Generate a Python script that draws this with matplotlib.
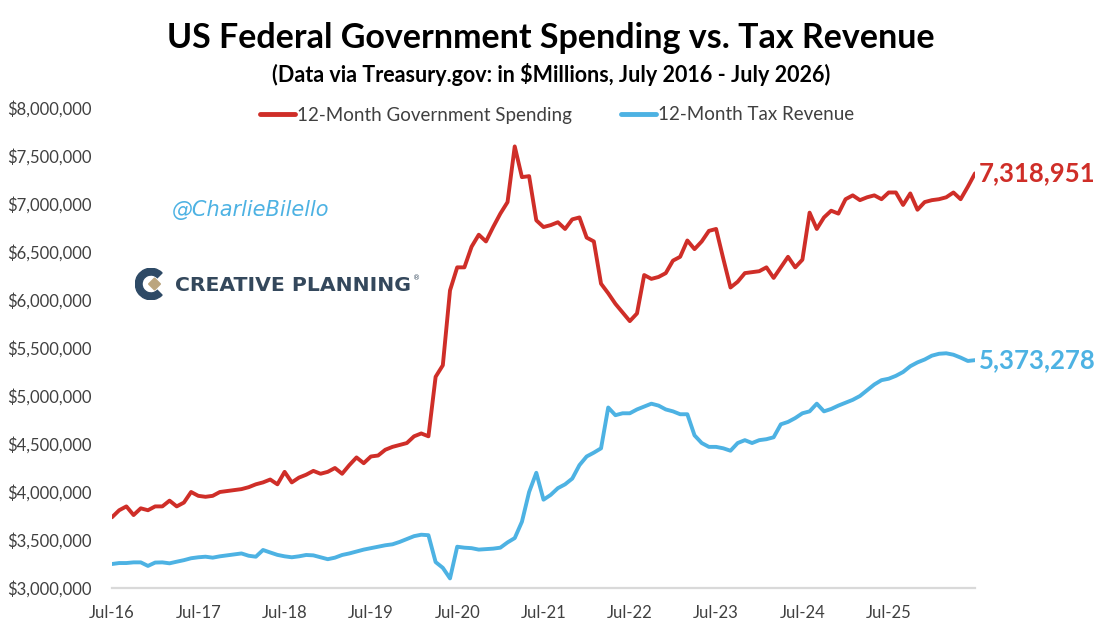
import matplotlib
matplotlib.use("Agg")
import matplotlib.pyplot as plt
from matplotlib.patches import Wedge, Polygon
import numpy as np

# ---- data (12-month rolling totals, in $ trillions -> converted to $ millions) ----
spending_tn = [3.737, 3.81, 3.85, 3.76, 3.83, 3.81, 3.85, 3.85, 3.91, 3.85,
               3.89, 4.00, 3.96, 3.95, 3.96, 4.00, 4.01, 4.02, 4.03, 4.05,
               4.08, 4.10, 4.13, 4.08, 4.21, 4.10, 4.15, 4.18, 4.22, 4.19,
               4.21, 4.25, 4.19, 4.28, 4.36, 4.30, 4.37, 4.38, 4.44, 4.47,
               4.49, 4.51, 4.58, 4.61, 4.58, 5.20, 5.32, 6.10, 6.34, 6.34,
               6.555, 6.68, 6.61, 6.76, 6.90, 7.02, 7.60, 7.28, 7.29, 6.83,
               6.76, 6.78, 6.81, 6.74, 6.84, 6.86, 6.65, 6.61, 6.17, 6.07,
               5.96, 5.87, 5.78, 5.86, 6.26, 6.22, 6.24, 6.28, 6.41, 6.45,
               6.62, 6.53, 6.61, 6.72, 6.74, 6.43, 6.13, 6.19, 6.28, 6.29,
               6.30, 6.34, 6.23, 6.34, 6.45, 6.34, 6.42, 6.91, 6.74, 6.86,
               6.93, 6.90, 7.05, 7.09, 7.04, 7.07, 7.09, 7.05, 7.12, 7.12,
               6.99, 7.11, 6.94, 7.02, 7.04, 7.05, 7.07, 7.12, 7.05, 7.18,
               7.318951]

revenue_tn = [3.25, 3.26, 3.26, 3.267, 3.267, 3.23, 3.265, 3.267, 3.257, 3.274,
              3.29, 3.31, 3.32, 3.326, 3.316, 3.33, 3.34, 3.35, 3.36, 3.336,
              3.326, 3.396, 3.37, 3.345, 3.33, 3.32, 3.33, 3.344, 3.34, 3.32,
              3.30, 3.316, 3.344, 3.36, 3.38, 3.40, 3.415, 3.43, 3.445, 3.455,
              3.48, 3.51, 3.54, 3.555, 3.55, 3.27, 3.21, 3.10, 3.43, 3.42,
              3.415, 3.40, 3.405, 3.41, 3.42, 3.475, 3.52, 3.69, 4.00, 4.20,
              3.92, 3.97, 4.04, 4.08, 4.14, 4.28, 4.37, 4.41, 4.455, 4.88,
              4.80, 4.82, 4.82, 4.86, 4.89, 4.92, 4.90, 4.86, 4.84, 4.81,
              4.81, 4.59, 4.51, 4.47, 4.47, 4.455, 4.43, 4.51, 4.54, 4.51,
              4.54, 4.55, 4.57, 4.705, 4.73, 4.77, 4.82, 4.84, 4.92, 4.84,
              4.865, 4.90, 4.93, 4.96, 5.00, 5.06, 5.12, 5.165, 5.18, 5.21,
              5.25, 5.31, 5.35, 5.38, 5.42, 5.44, 5.445, 5.43, 5.40, 5.365,
              5.373278]

x_tick_labels = ["Jul-16", "Jul-17", "Jul-18", "Jul-19", "Jul-20",
                 "Jul-21", "Jul-22", "Jul-23", "Jul-24", "Jul-25"]
y_ticks = [3000000, 3500000, 4000000, 4500000, 5000000, 5500000,
           6000000, 6500000, 7000000, 7500000, 8000000]
series_names = ["12-Month Government Spending", "12-Month Tax Revenue"]
last_labels = ["7,318,951", "5,373,278"]

spending = np.array(spending_tn) * 1e6
revenue = np.array(revenue_tn) * 1e6
months = np.arange(len(spending))

RED = "#CF2E28"
BLUE = "#4DB2E3"
FONT = "Lato"

W, H = 1102, 638
fig = plt.figure(figsize=(W / 100, H / 100), dpi=100)
fig.patch.set_facecolor("white")

ax = fig.add_axes([112 / W, 1 - 588 / H, (975 - 112) / W, (588 - 108) / H])
ax.plot(months, spending, color=RED, lw=2.8, solid_joinstyle="round",
        solid_capstyle="round", label=series_names[0], zorder=3)
ax.plot(months, revenue, color=BLUE, lw=2.8, solid_joinstyle="round",
        solid_capstyle="round", label=series_names[1], zorder=3)

ax.set_xlim(0, len(spending) - 1)
ax.set_ylim(3000000, 8000000)
ax.set_yticks(y_ticks)
ax.set_yticklabels([f"${v:,.0f}" for v in y_ticks], fontfamily=FONT,
                   fontsize=12, color="#404040")
ax.set_xticks(np.arange(len(x_tick_labels)) * 12)
ax.set_xticklabels(x_tick_labels, fontfamily=FONT, fontsize=12, color="#404040")
ax.tick_params(axis="both", length=0)
ax.tick_params(axis="y", pad=15)
ax.tick_params(axis="x", pad=12)
for s in ["top", "right", "left"]:
    ax.spines[s].set_visible(False)
ax.spines["bottom"].set_color("#D9D9D9")
ax.spines["bottom"].set_linewidth(1.6)
ax.set_facecolor("none")

# end-of-line value labels
ax.annotate(last_labels[0], xy=(months[-1], spending[-1]), xytext=(3, 0),
            textcoords="offset points", ha="left", va="center",
            fontfamily=FONT, fontweight="bold", fontsize=18.5, color=RED,
            annotation_clip=False)
ax.annotate(last_labels[1], xy=(months[-1], revenue[-1]), xytext=(3, 0),
            textcoords="offset points", ha="left", va="center",
            fontfamily=FONT, fontweight="bold", fontsize=18.5, color=BLUE,
            annotation_clip=False)

# titles
fig.text(551 / W, 1 - 38 / H, "US Federal Government Spending vs. Tax Revenue",
         ha="center", va="center", fontfamily=FONT, fontweight="bold",
         fontsize=24.5, color="#000000")
fig.text(551 / W, 1 - 74 / H,
         "(Data via Treasury.gov: in $Millions, July 2016 - July 2026)",
         ha="center", va="center", fontfamily=FONT, fontweight="bold",
         fontsize=15.5, color="#000000")

# legend
leg = fig.legend(loc="center", bbox_to_anchor=(557 / W, 1 - 115 / H), ncol=2,
                 frameon=False, prop={"family": FONT, "size": 13.5},
                 handlelength=1.9, handletextpad=0.1, columnspacing=2.6)
for t in leg.get_texts():
    t.set_color("#404040")
for l in leg.get_lines():
    l.set_linewidth(3.5)

# watermark
fig.text(172 / W, 1 - 210 / H, "@CharlieBilello", ha="left", va="center",
         fontfamily="DejaVu Sans", style="italic", fontsize=15,
         color="#4DB2E3")

# Creative Planning logo (icon + text)
icon_ax = fig.add_axes([135 / W, 1 - 300 / H, 32 / W, 32 / H])
icon_ax.set_xlim(-1, 1)
icon_ax.set_ylim(-1, 1)
icon_ax.set_aspect("equal")
icon_ax.axis("off")
icon_ax.add_patch(Wedge((0, 0), 0.98, 45, 315, width=0.42, color="#2E4A66"))
icon_ax.add_patch(Polygon([[-0.15, 0], [0.22, 0.37], [0.59, 0], [0.22, -0.37]],
                          closed=True, color="#BBA57E"))
fig.text(175 / W, 1 - 285 / H, "CREATIVE PLANNING", ha="left", va="center",
         fontfamily="DejaVu Sans", fontweight="bold", fontsize=14.7,
         color="#34485C")
fig.text(413 / W, 1 - 278 / H, "®", ha="left", va="center",
         fontfamily="DejaVu Sans", fontsize=5, color="#34485C")

fig.savefig("out.png", dpi=100, facecolor="white")
